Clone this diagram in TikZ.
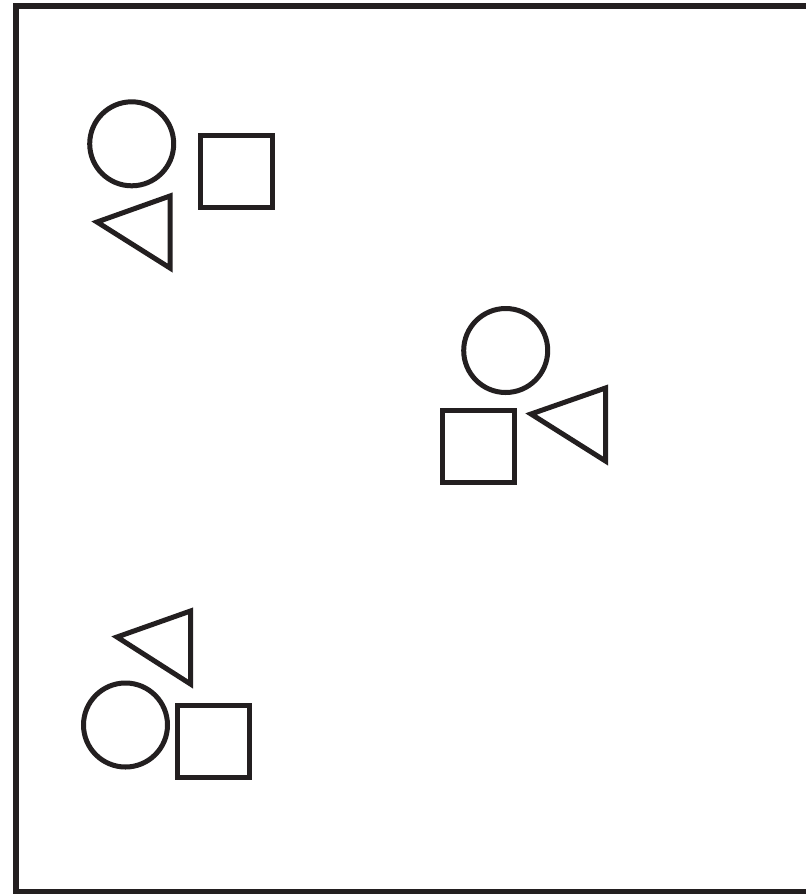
\documentclass[tikz,border=0pt]{standalone}
\definecolor{ink}{HTML}{231F20}
\begin{document}
\begin{tikzpicture}[x=1pt,y=-1pt,
  frame/.style={draw=ink,line width=5.5pt},
  shapeline/.style={draw=ink,line width=5pt,line join=miter},
  circ/.style={shapeline,circle,minimum size=84pt,inner sep=0pt},
  sq/.style={shapeline,rectangle,minimum size=72pt,inner sep=0pt}]
\useasboundingbox (0,0) rectangle (806,895);
\draw[frame] (16,5.8) rectangle (812,891.5);
% group 1
\node[circ] (c1) at (131.7,143.8) {};
\node[sq] (s1) at (236.7,171.7) {};
\draw[shapeline] (170,196) -- (97,222) -- (170,268) -- cycle;
% group 2
\node[circ] (c2) at (505.7,350.5) {};
\node[sq] (s2) at (478.7,446.7) {};
\draw[shapeline] (605.5,388) -- (531,414) -- (605.5,461) -- cycle;
% group 3
\node[circ] (c3) at (125.5,725) {};
\node[sq] (s3) at (213.7,741.7) {};
\draw[shapeline] (190.5,611) -- (117,637) -- (190.5,684) -- cycle;
\end{tikzpicture}
\end{document}
